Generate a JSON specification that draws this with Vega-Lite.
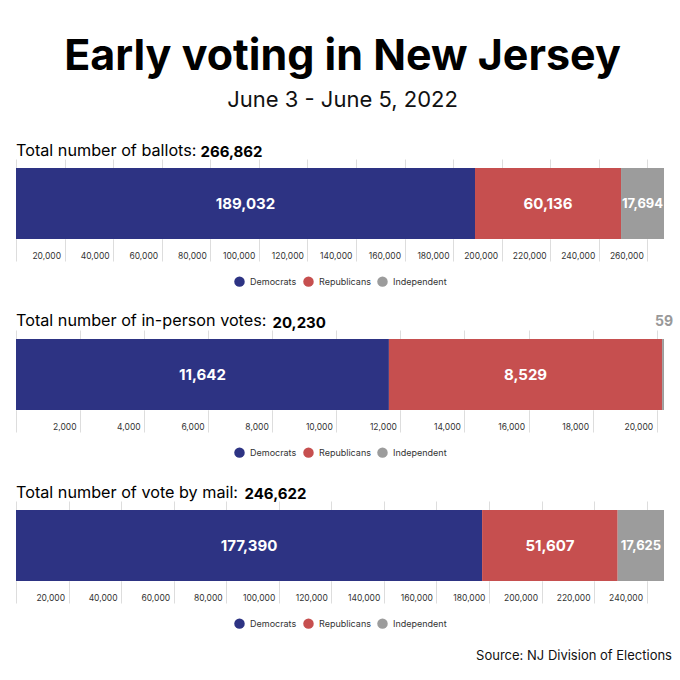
{
  "$schema": "https://vega.github.io/schema/vega-lite/v6.json",
  "background": "white",
  "padding": {"left": 12, "right": 8, "top": 35, "bottom": 6},
  "title": {
    "text": "Early voting in New Jersey",
    "subtitle": "June 3 - June 5, 2022",
    "anchor": "middle",
    "font": "Inter",
    "fontSize": 43,
    "fontWeight": 700,
    "color": "#000",
    "subtitleFont": "Inter",
    "subtitleFontSize": 22,
    "subtitleFontWeight": 400,
    "subtitleColor": "#111",
    "subtitlePadding": 11,
    "offset": 32
  },
  "datasets": {
    "ballots": [
      {"panel": "ballots", "party": "Democrats", "votes": 189032},
      {"panel": "ballots", "party": "Republicans", "votes": 60136},
      {"panel": "ballots", "party": "Independent", "votes": 17694}
    ],
    "inperson": [
      {"panel": "inperson", "party": "Democrats", "votes": 11642},
      {"panel": "inperson", "party": "Republicans", "votes": 8529},
      {"panel": "inperson", "party": "Independent", "votes": 59}
    ],
    "mail": [
      {"panel": "mail", "party": "Democrats", "votes": 177390},
      {"panel": "mail", "party": "Republicans", "votes": 51607},
      {"panel": "mail", "party": "Independent", "votes": 17625}
    ],
    "source": [{"t": ""}]
  },
  "bounds": "flush",
  "spacing": 91,
  "resolve": {"scale": {"x": "independent", "y": "independent"}, "legend": {"color": "independent"}},
  "vconcat": [
    {
      "data": {"name": "ballots"},
      "width": 648,
      "height": 80,
      "title": {"text": "Total number of ballots:", "anchor": "start", "baseline": "alphabetic", "offset": 3, "dy": 31, "dx": 4, "fontSize": 16.2, "fontWeight": 400, "font": "Inter", "color": "#000"},
      "transform": [
        {"stack": "votes", "groupby": ["panel"], "sort": [{"field": "votes", "order": "descending"}], "as": ["v0", "v1"]},
        {"calculate": "(datum.v0 + datum.v1) / 2", "as": "mid"}
      ],
      "encoding": {
        "y": {"field": "panel", "type": "nominal", "axis": null, "scale": {"paddingInner": 0, "paddingOuter": 0.0634, "align": 1}}
      },
      "layer": [
        {
          "mark": {"type": "bar"},
          "encoding": {
            "x": {"field": "v0", "type": "quantitative", "scale": {"domain": [0, 266862], "nice": false, "zero": true},
              "axis": {"orient": "bottom", "values": [0, 20000, 40000, 60000, 80000, 100000, 120000, 140000, 160000, 180000, 200000, 220000, 240000, 260000], "labelExpr": "datum.value == 0 ? '' : format(datum.value, ',')", "grid": true, "gridColor": "#dddddd", "tickColor": "#dddddd", "tickSize": 22, "domain": false, "labelAlign": "right", "labelBaseline": "middle", "labelOffset": -4, "labelPadding": -6, "labelFontSize": 8.5, "labelColor": "#333", "labelFont": "Inter", "labelFlush": false, "labelOverlap": false,
                "title": "266,862", "titleX": 184, "titleY": -83, "titleAlign": "left", "titleBaseline": "alphabetic", "titleFontSize": 15, "titleFontWeight": 700, "titleFont": "Inter", "titleColor": "#000"}},
            "x2": {"field": "v1"},
            "color": {"field": "party", "type": "nominal", "sort": ["Democrats", "Republicans", "Independent"],
              "scale": {"domain": ["Democrats", "Republicans", "Independent"], "range": ["#2d3383", "#c64f4f", "#9c9c9c"]},
              "legend": {"orient": "none", "legendX": 218, "legendY": 117, "direction": "horizontal", "title": null, "symbolType": "circle", "symbolSize": 110, "symbolStrokeWidth": 0, "labelFontSize": 9, "labelFont": "Inter", "labelColor": "#333", "columnPadding": 6, "labelOffset": 5}}
          }
        },
        {
          "transform": [{"filter": "datum.votes >= 1000"}],
          "mark": {"type": "text", "color": "white", "fontWeight": 700, "font": "Inter"},
          "encoding": {
            "x": {"field": "mid", "type": "quantitative"},
            "text": {"field": "votes", "type": "quantitative", "format": ","},
            "size": {"condition": {"test": "datum.party == 'Independent'", "value": 13}, "value": 15}
          }
        }
      ]
    },
    {
      "data": {"name": "inperson"},
      "width": 648,
      "height": 80,
      "title": {"text": "Total number of in-person votes:", "anchor": "start", "baseline": "alphabetic", "offset": 3, "dy": 31, "dx": 4, "fontSize": 16.2, "fontWeight": 400, "font": "Inter", "color": "#000"},
      "transform": [
        {"stack": "votes", "groupby": ["panel"], "sort": [{"field": "votes", "order": "descending"}], "as": ["v0", "v1"]},
        {"calculate": "(datum.v0 + datum.v1) / 2", "as": "mid"}
      ],
      "encoding": {
        "y": {"field": "panel", "type": "nominal", "axis": null, "scale": {"paddingInner": 0, "paddingOuter": 0.0634, "align": 1}}
      },
      "layer": [
        {
          "mark": {"type": "bar"},
          "encoding": {
            "x": {"field": "v0", "type": "quantitative", "scale": {"domain": [0, 20230], "nice": false, "zero": true},
              "axis": {"orient": "bottom", "values": [0, 2000, 4000, 6000, 8000, 10000, 12000, 14000, 16000, 18000, 20000], "labelExpr": "datum.value == 0 ? '' : format(datum.value, ',')", "grid": true, "gridColor": "#dddddd", "tickColor": "#dddddd", "tickSize": 22, "domain": false, "labelAlign": "right", "labelBaseline": "middle", "labelOffset": -4, "labelPadding": -6, "labelFontSize": 8.5, "labelColor": "#333", "labelFont": "Inter", "labelFlush": false, "labelOverlap": false,
                "title": "20,230", "titleX": 256, "titleY": -83, "titleAlign": "left", "titleBaseline": "alphabetic", "titleFontSize": 15, "titleFontWeight": 700, "titleFont": "Inter", "titleColor": "#000"}},
            "x2": {"field": "v1"},
            "color": {"field": "party", "type": "nominal", "sort": ["Democrats", "Republicans", "Independent"],
              "scale": {"domain": ["Democrats", "Republicans", "Independent"], "range": ["#2d3383", "#c64f4f", "#9c9c9c"]},
              "legend": {"orient": "none", "legendX": 218, "legendY": 117, "direction": "horizontal", "title": null, "symbolType": "circle", "symbolSize": 110, "symbolStrokeWidth": 0, "labelFontSize": 9, "labelFont": "Inter", "labelColor": "#333", "columnPadding": 6, "labelOffset": 5}}
          }
        },
        {
          "transform": [{"filter": "datum.votes >= 1000"}],
          "mark": {"type": "text", "color": "white", "fontWeight": 700, "font": "Inter"},
          "encoding": {
            "x": {"field": "mid", "type": "quantitative"},
            "text": {"field": "votes", "type": "quantitative", "format": ","},
            "size": {"condition": {"test": "datum.party == 'Independent'", "value": 13}, "value": 15}
          }
        },
        {
          "transform": [{"filter": "datum.votes < 1000"}],
          "mark": {"type": "text", "color": "#999999", "fontWeight": 700, "font": "Inter", "fontSize": 14, "dy": -53},
          "encoding": {
            "x": {"field": "v1", "type": "quantitative"},
            "text": {"field": "votes", "type": "quantitative", "format": ","}
          }
        }
      ]
    },
    {
      "data": {"name": "mail"},
      "width": 648,
      "height": 80,
      "title": {"text": "Total number of vote by mail:", "anchor": "start", "baseline": "alphabetic", "offset": 3, "dy": 31, "dx": 4, "fontSize": 16.2, "fontWeight": 400, "font": "Inter", "color": "#000"},
      "transform": [
        {"stack": "votes", "groupby": ["panel"], "sort": [{"field": "votes", "order": "descending"}], "as": ["v0", "v1"]},
        {"calculate": "(datum.v0 + datum.v1) / 2", "as": "mid"}
      ],
      "encoding": {
        "y": {"field": "panel", "type": "nominal", "axis": null, "scale": {"paddingInner": 0, "paddingOuter": 0.0634, "align": 1}}
      },
      "layer": [
        {
          "mark": {"type": "bar"},
          "encoding": {
            "x": {"field": "v0", "type": "quantitative", "scale": {"domain": [0, 246622], "nice": false, "zero": true},
              "axis": {"orient": "bottom", "values": [0, 20000, 40000, 60000, 80000, 100000, 120000, 140000, 160000, 180000, 200000, 220000, 240000], "labelExpr": "datum.value == 0 ? '' : format(datum.value, ',')", "grid": true, "gridColor": "#dddddd", "tickColor": "#dddddd", "tickSize": 22, "domain": false, "labelAlign": "right", "labelBaseline": "middle", "labelOffset": -4, "labelPadding": -6, "labelFontSize": 8.5, "labelColor": "#333", "labelFont": "Inter", "labelFlush": false, "labelOverlap": false,
                "title": "246,622", "titleX": 228, "titleY": -83, "titleAlign": "left", "titleBaseline": "alphabetic", "titleFontSize": 15, "titleFontWeight": 700, "titleFont": "Inter", "titleColor": "#000"}},
            "x2": {"field": "v1"},
            "color": {"field": "party", "type": "nominal", "sort": ["Democrats", "Republicans", "Independent"],
              "scale": {"domain": ["Democrats", "Republicans", "Independent"], "range": ["#2d3383", "#c64f4f", "#9c9c9c"]},
              "legend": {"orient": "none", "legendX": 218, "legendY": 117, "direction": "horizontal", "title": null, "symbolType": "circle", "symbolSize": 110, "symbolStrokeWidth": 0, "labelFontSize": 9, "labelFont": "Inter", "labelColor": "#333", "columnPadding": 6, "labelOffset": 5}}
          }
        },
        {
          "transform": [{"filter": "datum.votes >= 1000"}],
          "mark": {"type": "text", "color": "white", "fontWeight": 700, "font": "Inter"},
          "encoding": {
            "x": {"field": "mid", "type": "quantitative"},
            "text": {"field": "votes", "type": "quantitative", "format": ","},
            "size": {"condition": {"test": "datum.party == 'Independent'", "value": 13}, "value": 15}
          }
        }
      ]
    },
    {
      "data": {"name": "source"},
      "width": 648,
      "height": 1,
      "title": {"text": "Source: NJ Division of Elections", "anchor": "end", "orient": "top", "baseline": "alphabetic", "offset": -6, "dx": 8, "fontSize": 13, "fontWeight": 400, "font": "Inter", "color": "#111"},
      "mark": {"type": "text"},
      "encoding": {"text": {"field": "t", "type": "nominal"}}
    }
  ],
  "config": {
    "font": "Inter",
    "view": {"stroke": null}
  }
}
